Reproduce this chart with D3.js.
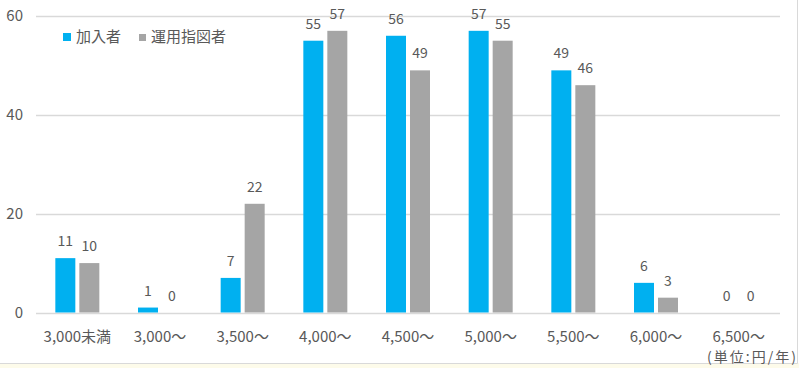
<!DOCTYPE html>
<html><head><meta charset="utf-8">
<script src="https://cdn.jsdelivr.net/npm/d3@7"></script>
<style>body{margin:0;background:#fff}svg{display:block;font-family:"Noto Sans CJK JP","Noto Sans",sans-serif}</style>
</head><body><svg id="c" width="799" height="368"></svg>
<script>
const categories=["3,000未満","3,000～","3,500～","4,000～","4,500～","5,000～","5,500～","6,000～","6,500～"];
const seriesNames=["加入者","運用指図者"];
const members=[11,1,7,55,56,57,49,6,0];
const instructors=[10,0,22,57,49,55,46,3,0];
const yTicks=[0,20,40,60];
const colors=["#00B0F0","#A5A5A5"];

const svg=d3.select("#c");
// frame
svg.append("rect").attr("x",0).attr("y",363).attr("width",799).attr("height",5).attr("fill","#FDFBEA");
svg.append("line").attr("x1",0).attr("x2",797.5).attr("y1",363.5).attr("y2",363.5).attr("stroke","#D9D9D9");
svg.append("line").attr("x1",797.5).attr("x2",797.5).attr("y1",0).attr("y2",363.5).attr("stroke","#D9D9D9");

const x=d3.scaleBand().domain(categories).range([36,780]);
const y=d3.scaleLinear().domain([0,60]).range([312.5,16]);
const barW=20, gap=4;

const g=svg.append("g");
g.selectAll(".grid").data(yTicks).join("line")
 .attr("x1",36).attr("x2",780).attr("y1",d=>Math.round(y(d))+0.5).attr("y2",d=>Math.round(y(d))+0.5)
 .attr("stroke","#D9D9D9").attr("stroke-width",1.3);
g.selectAll(".yt").data(yTicks).join("text")
 .attr("x",23).attr("y",d=>y(d)).attr("dy","0.35em").attr("text-anchor","end")
 .attr("font-size",15).attr("fill","#595959").text(d=>d);

const series=[members,instructors];
series.forEach((vals,si)=>{
  const off= si===0 ? -gap/2-barW : gap/2;
  g.selectAll(".b"+si).data(vals).join("rect")
   .attr("x",(d,i)=>x(categories[i])+x.bandwidth()/2+off)
   .attr("y",d=>y(d)).attr("width",barW).attr("height",d=>y(0)-y(d))
   .attr("fill",colors[si]);
  g.selectAll(".l"+si).data(vals).join("text")
   .attr("x",(d,i)=>x(categories[i])+x.bandwidth()/2+off+barW/2)
   .attr("y",d=>y(d)-12).attr("text-anchor","middle")
   .attr("font-size",14).attr("fill","#595959").text(d=>d);
});

g.selectAll(".xl").data(categories).join("text")
 .attr("x",d=>x(d)+x.bandwidth()/2).attr("y",342).attr("text-anchor","middle")
 .attr("font-size",15).attr("fill","#595959").text(d=>d);

// legend
const lg=svg.append("g");
lg.append("rect").attr("x",63).attr("y",33).attr("width",8).attr("height",8).attr("fill",colors[0]);
lg.append("text").attr("x",76).attr("y",37).attr("dy","0.35em").attr("font-size",15).attr("fill","#595959").text(seriesNames[0]);
lg.append("rect").attr("x",139).attr("y",34).attr("width",7).attr("height",7).attr("fill",colors[1]);
lg.append("text").attr("x",151).attr("y",37).attr("dy","0.35em").attr("font-size",15).attr("fill","#595959").text(seriesNames[1]);

svg.append("text").attr("x",707).attr("y",362)
 .attr("font-size",14).attr("fill","#595959")
 .attr("textLength",89).attr("lengthAdjust","spacing").text("(単位:円/年)");
</script></body></html>
